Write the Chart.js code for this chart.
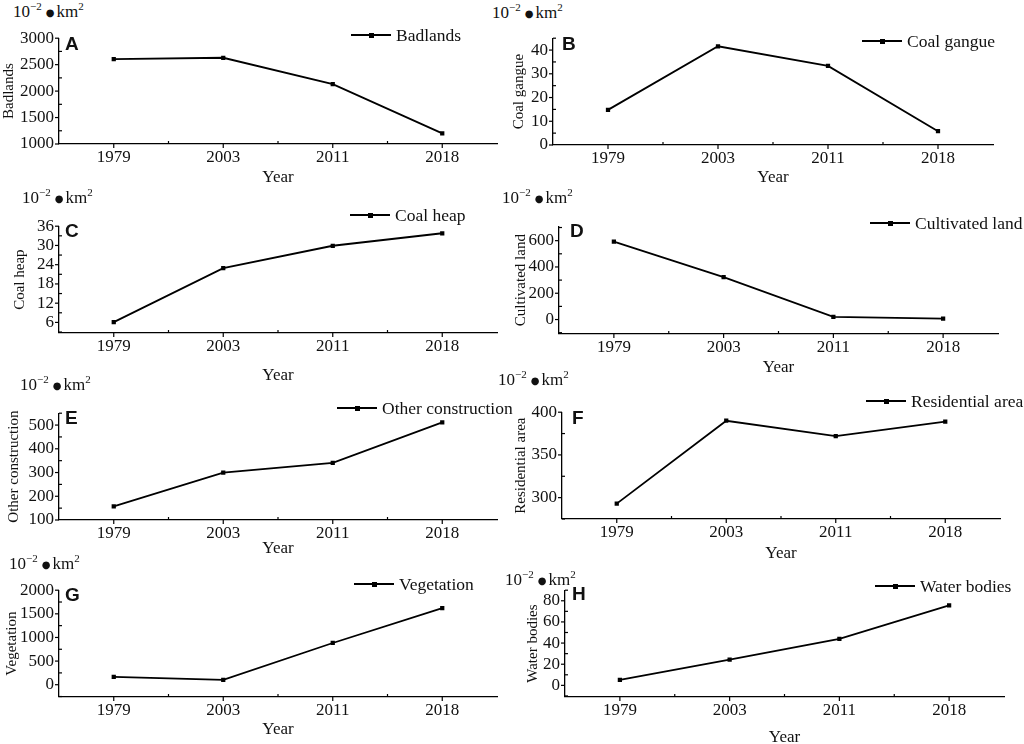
<!DOCTYPE html>
<html><head><meta charset="utf-8">
<script src="https://cdn.jsdelivr.net/npm/chart.js@4.4.1/dist/chart.umd.min.js"></script>
<style>
html,body{margin:0;padding:0;width:1024px;height:744px;overflow:hidden;background:#fff;}
canvas{position:absolute;}
.ov{position:absolute;white-space:nowrap;font-family:"Liberation Serif","Times New Roman",serif;color:#111;line-height:20px;height:20px;z-index:5;}
.unit{font-size:17px;}
.unit sup{font-size:11px;vertical-align:0;position:relative;top:-7px;}
.unit .dot{font-family:"DejaVu Sans",sans-serif;font-size:10px;position:relative;top:-1px;margin:0 2px 0 4px;}
.letter{font-family:"Liberation Sans",Arial,sans-serif;font-weight:bold;font-size:19px;}
.leg{font-size:17.5px;display:flex;align-items:center;}
.leg .sample{position:relative;width:40px;height:2px;background:#000;margin-right:5px;}
.leg .sample::after{content:'';position:absolute;left:17.5px;top:-1.5px;width:5px;height:5px;background:#000;}
</style></head><body>
<script>
// ---- data ----
const categories = ['1979', '2003', '2011', '2018'];
const badlands = [2605, 2630, 2130, 1200];
const coalGangue = [14.8, 41.6, 33.3, 5.8];
const coalHeap = [6.1, 22.9, 29.9, 33.8];
const cultivatedLand = [593, 323, 20, 7];
const otherConstruction = [157, 300, 341, 511];
const residentialArea = [293, 390, 372, 389];
const vegetation = [165, 103, 883, 1620];
const waterBodies = [5.3, 24.4, 43.9, 75.7];

const seriesNames = ['Badlands', 'Coal gangue', 'Coal heap', 'Cultivated land',
  'Other construction', 'Residential area', 'Vegetation', 'Water bodies'];
const panelLetters = ['A', 'B', 'C', 'D', 'E', 'F', 'G', 'H'];
const seriesValues = [badlands, coalGangue, coalHeap, cultivatedLand,
  otherConstruction, residentialArea, vegetation, waterBodies];
const xTitle = 'Year';

// y-axis ranges and tick steps
const yMin = [1000, 0, 2.7, -110, 100, 275, -260, -11];
const yMax = [3000, 45, 36, 710, 550, 400, 2000, 90];
const yMajor = [500, 10, 6, 200, 100, 50, 500, 20];
const yMinor = [250, 5, 3, 100, 50, 25, 250, 10];

// ---- layout (page pixels) ----
const layouts = [
  {col:0, pl:59,  pr:497,  pt:35,  pb:144, ytx:8,   yearY:178, unit:[13,12],  letter:[65,44],  leg:[351,35]},
  {col:1, pl:553, pr:993,  pt:35,  pb:145, ytx:519, yearY:178, unit:[492,13], letter:[562,44], leg:[862,41]},
  {col:0, pl:59,  pr:497,  pt:223, pb:333, ytx:20,  yearY:376, unit:[22,198], letter:[65,231], leg:[350,215]},
  {col:1, pl:559, pr:998,  pt:223, pb:334, ytx:521, yearY:368, unit:[502,198],letter:[570,231],leg:[870,223]},
  {col:0, pl:59,  pr:497,  pt:410, pb:520, ytx:14,  yearY:549, unit:[20,385], letter:[65,418], leg:[337,408]},
  {col:1, pl:562, pr:1000, pt:409, pb:519, ytx:521, yearY:554, unit:[498,380],letter:[572,418],leg:[866,401]},
  {col:0, pl:59,  pr:497,  pt:587, pb:697, ytx:12,  yearY:730, unit:[9,564],  letter:[65,595], leg:[354,584]},
  {col:1, pl:565, pr:1004, pt:587, pb:697, ytx:533, yearY:738, unit:[505,580],letter:[572,594],leg:[875,586]}
];

const FAMILY = '"Liberation Serif","Times New Roman",serif';
const TXT = '#111';

function stepValues(lo, hi, step) {
  const out = [];
  for (let k = Math.ceil(lo / step - 1e-9); k * step <= hi + 1e-9; k++) out.push(Math.round(k * step * 1000) / 1000);
  return out;
}

const axisTicks = {
  id: 'axisTicks',
  afterDraw(chart, args, opts) {
    const {ctx, chartArea} = chart;
    const xs = chart.scales.x, ys = chart.scales.y;
    const ax = chartArea.left, ay = chartArea.bottom;
    ctx.save();
    ctx.strokeStyle = '#000';
    ctx.lineWidth = 1.2;
    const mj = opts.major;
    stepValues(ys.min, ys.max, opts.minor).forEach(v => {
      const p = ys.getPixelForValue(v);
      const r = v / mj;
      const isMaj = Math.abs(r - Math.round(r)) < 1e-6;
      ctx.beginPath();
      if (isMaj) { ctx.moveTo(ax - 4, p); ctx.lineTo(ax, p); }
      else { ctx.moveTo(ax, p); ctx.lineTo(ax + 3, p); }
      ctx.stroke();
    });
    const n = chart.data.labels.length;
    for (let i = 0; i < n; i++) {
      const p = xs.getPixelForValue(i);
      ctx.beginPath(); ctx.moveTo(p, ay); ctx.lineTo(p, ay + 4); ctx.stroke();
    }
    for (let i = 0; i < n - 1; i++) {
      const p = (xs.getPixelForValue(i) + xs.getPixelForValue(i + 1)) / 2;
      ctx.beginPath(); ctx.moveTo(p, ay); ctx.lineTo(p, ay - 3); ctx.stroke();
    }
    ctx.restore();
  }
};

const PT = 12;
layouts.forEach((L, i) => {
  const cl = L.col === 0 ? 0 : 505;
  const cw = L.col === 0 ? 505 : 519;
  const ct = L.pt - PT;
  const Lw = L.pl - cl;
  const pR = cl + cw - L.pr;
  const yearLH = 17 * 1.2;
  const Bh = (L.yearY - L.pb) + yearLH / 2;
  const plotH = L.pb - L.pt;
  const ch = Math.ceil(PT + plotH + Bh);
  const padB = ch - (PT + plotH + Bh);
  const tp = Math.max(0, L.ytx - cl - 15 * 1.2 / 2);

  const cv = document.createElement('canvas');
  cv.width = cw; cv.height = ch;
  cv.style.left = cl + 'px'; cv.style.top = ct + 'px';
  cv.style.width = cw + 'px'; cv.style.height = ch + 'px';
  document.body.appendChild(cv);

  const mj = yMajor[i];
  new Chart(cv, {
    type: 'line',
    data: {
      labels: categories,
      datasets: [{
        label: seriesNames[i],
        data: seriesValues[i],
        borderColor: '#000',
        backgroundColor: '#000',
        borderWidth: 1.8,
        pointStyle: 'rect',
        pointRadius: 3,
        pointBackgroundColor: '#000',
        pointBorderWidth: 0,
        tension: 0,
        fill: false
      }]
    },
    options: {
      responsive: false,
      animation: false,
      layout: {padding: {top: PT, right: pR, left: 0, bottom: padB}},
      plugins: {
        legend: {display: false},
        tooltip: {enabled: false},
        axisTicks: {major: mj, minor: yMinor[i]}
      },
      scales: {
        x: {
          type: 'category',
          offset: true,
          grid: {display: false, drawTicks: false},
          border: {display: true, color: '#000', width: 1.3},
          ticks: {font: {family: FAMILY, size: 17}, color: TXT, padding: 3, autoSkip: false, maxRotation: 0},
          title: {display: true, text: xTitle, font: {family: FAMILY, size: 17}, color: TXT, padding: {top: 0, bottom: 0}},
          afterFit(s) { s.height = Bh; }
        },
        y: {
          type: 'linear',
          min: yMin[i],
          max: yMax[i],
          grid: {display: false, drawTicks: false},
          border: {display: true, color: '#000', width: 1.3},
          afterBuildTicks(s) {
            s.ticks = stepValues(yMin[i], yMax[i], mj).map(v => ({value: v}));
          },
          ticks: {
            autoSkip: false,
            font: {family: FAMILY, size: 17},
            color: TXT,
            padding: 5,
            callback: (v) => String(v)
          },
          title: {display: true, text: seriesNames[i], font: {family: FAMILY, size: 15}, color: TXT, padding: {top: tp, bottom: 0}},
          afterFit(s) { s.width = Lw; }
        }
      }
    },
    plugins: [axisTicks]
  });

  // unit label
  const u = document.createElement('div');
  u.className = 'ov unit';
  u.style.left = L.unit[0] + 'px'; u.style.top = (L.unit[1] - 10) + 'px';
  u.innerHTML = '10<sup>\u22122</sup><span class="dot">\u25CF</span>km<sup>2</sup>';
  document.body.appendChild(u);
  // panel letter
  const lt = document.createElement('div');
  lt.className = 'ov letter';
  lt.style.left = L.letter[0] + 'px'; lt.style.top = (L.letter[1] - 10) + 'px';
  lt.textContent = panelLetters[i];
  document.body.appendChild(lt);
  // legend
  const lg = document.createElement('div');
  lg.className = 'ov leg';
  lg.style.left = L.leg[0] + 'px'; lg.style.top = (L.leg[1] - 10) + 'px';
  const smp = document.createElement('span'); smp.className = 'sample';
  const tx = document.createElement('span'); tx.textContent = seriesNames[i];
  lg.appendChild(smp); lg.appendChild(tx);
  document.body.appendChild(lg);
});
</script>
</body></html>
